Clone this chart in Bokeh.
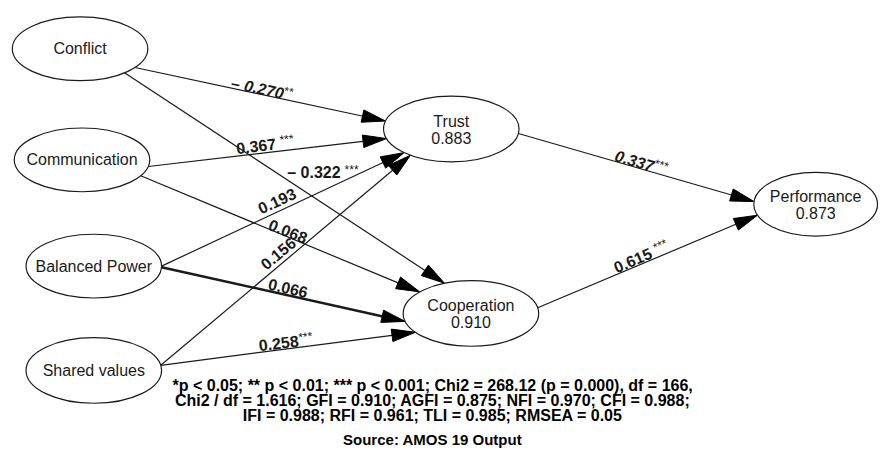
import math
from bokeh.plotting import figure
from bokeh.models import Range1d, ColumnDataSource
from bokeh.core.properties import value
from bokeh.embed import file_html
from bokeh.resources import INLINE

# ---------------- data ----------------
node_names = ["Conflict", "Communication", "Balanced Power", "Shared values",
              "Trust", "Cooperation", "Performance"]
node_r2 = ["", "", "", "", "0.883", "0.910", "0.873"]

edge_src = ["Conflict", "Conflict", "Communication", "Communication",
            "Balanced Power", "Balanced Power", "Shared values", "Shared values",
            "Trust", "Cooperation"]
edge_dst = ["Trust", "Cooperation", "Trust", "Cooperation",
            "Trust", "Cooperation", "Trust", "Cooperation",
            "Performance", "Performance"]
edge_coef = ["– 0.270", "– 0.322", "0.367", "0.068", "0.193",
             "0.066", "0.156", "0.258", "0.337", "0.615"]
edge_sig = ["**", "***", "***", "", "", "", "", "***", "***", "***"]
edge_sig_spaced = [False, True, True, False, False, False, False, False, False, True]

fit_lines = [
    "*p < 0.05; ** p < 0.01; *** p < 0.001; Chi2 = 268.12 (p = 0.000), df = 166,",
    "Chi2 / df = 1.616; GFI = 0.910; AGFI = 0.875; NFI = 0.970; CFI = 0.988;",
    "IFI = 0.988; RFI = 0.961; TLI = 0.985; RMSEA = 0.05",
]
source_note = "Source: AMOS 19 Output"

# ---------------- layout (diagram coordinates, y downward) ----------------
node_cx = [81, 83, 95, 95, 459, 479, 830]
node_cy = [50, 165, 275, 383, 133, 324, 211]
node_rx = [69, 69, 69, 69, 69, 69, 63]
node_ry = [33, 33, 33, 34, 34, 34, 33]

src_angle = [36, 49, 12, 30, 0, 2, -9, -9, 8, -10]
dst_angle = [194, 247, 163, 221, 134, 166, 127, 145, 185, 160]
edge_width = [1.2, 1.2, 1.2, 1.2, 1.2, 2.4, 1.2, 1.2, 1.2, 1.2]

label_x = [235, 292, 240, 274, 263, 273, 267, 263, 626, 625]
label_y = [85, 178, 153, 231, 216, 293, 275, 357, 160, 277]
label_angle = [-12, 0, 7, -22, 25, -13, 40, 7, -16, 23.5]
label_italic = [True, False, False, False, False, False, False, False, True, False]

fit_x = 440
fit_y = [399, 414.5, 430]
source_y = 454

FONT = "Liberation Sans"
INK = "#1a1a1a"

p = figure(width=879, height=453, output_backend="svg", toolbar_location=None,
           x_range=Range1d(0, 895), y_range=Range1d(469, 0),
           min_border=0, background_fill_color="white", border_fill_color="white")
p.axis.visible = False
p.xgrid.visible = False
p.ygrid.visible = False
p.outline_line_color = None

idx = {n: i for i, n in enumerate(node_names)}


def ell_pt(i, a_deg):
    a = math.radians(a_deg)
    return node_cx[i] + node_rx[i] * math.cos(a), node_cy[i] + node_ry[i] * math.sin(a)


# edges
head_len, head_half = 24, 6.5
lx0, ly0, lx1, ly1, lw = [], [], [], [], []
hx, hy = [], []
for k in range(len(edge_src)):
    s, d = idx[edge_src[k]], idx[edge_dst[k]]
    x0, y0 = ell_pt(s, src_angle[k])
    x1, y1 = ell_pt(d, dst_angle[k])
    L = math.hypot(x1 - x0, y1 - y0)
    ux, uy = (x1 - x0) / L, (y1 - y0) / L
    bx, by = x1 - ux * head_len, y1 - uy * head_len
    lx0.append(x0); ly0.append(y0); lx1.append(bx + ux * 2); ly1.append(by + uy * 2)
    lw.append(edge_width[k])
    hx.append([x1, bx - uy * head_half, bx + uy * head_half])
    hy.append([y1, by + ux * head_half, by - ux * head_half])

p.segment(x0="x0", y0="y0", x1="x1", y1="y1", line_width="w", line_color=INK,
          source=ColumnDataSource(dict(x0=lx0, y0=ly0, x1=lx1, y1=ly1, w=lw)))
p.patches(hx, hy, fill_color="black", line_color="black", line_width=1)

# nodes
p.ellipse(x=node_cx, y=node_cy, width=[2 * r for r in node_rx],
          height=[2 * r for r in node_ry], fill_color="white",
          line_color=INK, line_width=1.2)

NFS = "16px"
single = [i for i in range(len(node_names)) if not node_r2[i]]
double = [i for i in range(len(node_names)) if node_r2[i]]
p.text(x=[node_cx[i] for i in single], y=[node_cy[i] for i in single],
       text=[node_names[i] for i in single], text_font=value(FONT),
       text_font_size=NFS, text_align="center", text_baseline="middle",
       text_color=INK)
p.text(x=[node_cx[i] for i in double], y=[node_cy[i] - 8 for i in double],
       text=[node_names[i] for i in double], text_font=value(FONT),
       text_font_size=NFS, text_align="center", text_baseline="middle",
       text_color=INK)
p.text(x=[node_cx[i] for i in double], y=[node_cy[i] + 9 for i in double],
       text=[node_r2[i] for i in double], text_font=value(FONT),
       text_font_size=NFS, text_align="center", text_baseline="middle",
       text_color=INK)

# edge labels
CW = {"0": 0.556, "1": 0.556, "2": 0.556, "3": 0.556, "4": 0.556, "5": 0.556,
      "6": 0.556, "7": 0.556, "8": 0.556, "9": 0.556, ".": 0.278, " ": 0.278,
      "–": 0.556}
FS = 16
for style in (False, True):
    ks = [k for k in range(len(edge_coef)) if label_italic[k] == style]
    p.text(x=[label_x[k] for k in ks], y=[label_y[k] for k in ks],
           text=[edge_coef[k] for k in ks], angle=[label_angle[k] for k in ks],
           angle_units="deg", text_font=value(FONT), text_font_size=f"{FS}px",
           text_font_style="bold italic" if style else "bold",
           text_align="left", text_baseline="alphabetic", text_color=INK)

sx, sy, st, sa = [], [], [], []
for k in range(len(edge_coef)):
    if not edge_sig[k]:
        continue
    w = sum(CW.get(c, 0.556) for c in edge_coef[k]) * FS
    gap = 5 if edge_sig_spaced[k] else 1
    th = math.radians(label_angle[k])
    dx, dy = math.cos(th), -math.sin(th)
    ux, uy = -math.sin(th), -math.cos(th)
    raise_ = 3
    sx.append(label_x[k] + (w + gap) * dx + raise_ * ux)
    sy.append(label_y[k] + (w + gap) * dy + raise_ * uy)
    st.append(edge_sig[k]); sa.append(label_angle[k])
p.text(x=sx, y=sy, text=st, angle=sa, angle_units="deg", text_font=value(FONT),
       text_font_size="12px", text_align="left", text_baseline="alphabetic",
       text_color=INK)

# fit statistics and source
p.text(x=[fit_x] * len(fit_lines), y=fit_y, text=fit_lines, text_font=value(FONT),
       text_font_size="16px", text_font_style="bold", text_align="center",
       text_baseline="middle", text_color="black")
p.text(x=[fit_x], y=[source_y], text=[source_note], text_font=value(FONT),
       text_font_size="15px", text_font_style="bold", text_align="center",
       text_baseline="middle", text_color="black")

open("out.html", "w").write(file_html(p, INLINE))
